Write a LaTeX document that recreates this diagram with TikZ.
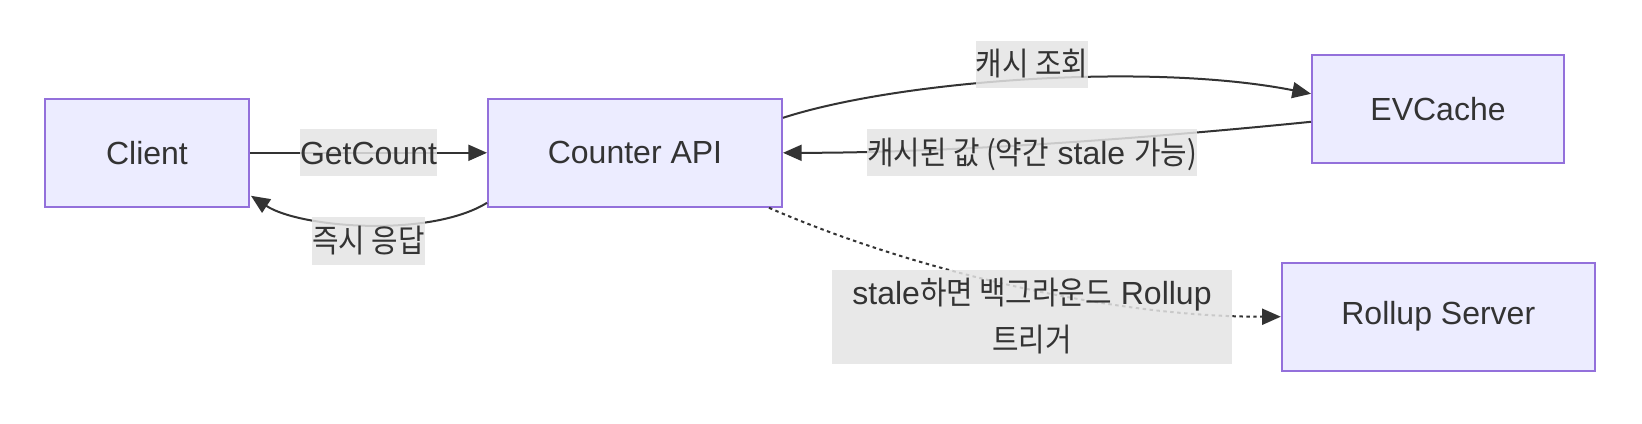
\documentclass[tikz,border=0pt]{standalone}
\usepackage{fontspec}
\setmainfont{Liberation Sans}
\newfontfamily\kr{Noto Sans CJK KR}[FakeStretch=0.9]
\usetikzlibrary{arrows.meta}

\definecolor{boxfill}{HTML}{ECECFF}
\definecolor{boxline}{HTML}{9370DB}
\definecolor{ink}{HTML}{333333}
\definecolor{lblbg}{HTML}{E4E4E4}

% line box of one label line, text set a little low as in the picture
\newcommand\lblstrut{\rule[-9.1pt]{0pt}{35.25pt}}

\tikzset{
  box/.style={draw=boxline, fill=boxfill, line width=1.5pt, minimum height=81pt, text=ink},
  lbl/.style={fill=lblbg, fill opacity=0.85, text opacity=1, text=ink, inner xsep=0pt, inner ysep=0pt},
  flow/.style={draw=ink, line width=1.5pt, -{Triangle[length=14pt, width=12pt]}},
  dots/.style={flow, dash pattern=on 2.6pt off 2.6pt},
}

\begin{document}
\begin{tikzpicture}[x=0.75pt, y=-0.75pt, font=\fontsize{24}{35.25}\selectfont]
        \path[fill=white, use as bounding box] (0,0) rectangle (1642,424);

        % Draw the four services
        \node[box, minimum width=153pt] (client) at (147,152.8) {Client};
        \node[box, minimum width=220.5pt] (api) at (635,152.8) {Counter API};
        \node[box, minimum width=189pt] (evc) at (1438,108.8) {EVCache};
        \node[box, minimum width=234.75pt] (roll) at (1438.3,316.7) {Rollup Server};

        % Request from the client, and the quick reply
        \draw[flow] (client) -- node[lbl] (get) {\lblstrut GetCount} (api);
        \draw[flow] ([shift={(0,-5)}]api.south west) .. controls (430,238) and (300,228) .. ([shift={(1,-12)}]client.south east);
        \node[lbl] (now) at (368.5,241) {\lblstrut\kr 즉시 응답};

        % Cache lookup and cached value
        \draw[flow] ([shift={(0,20)}]api.north east) .. controls (900,80) and (1150,62) .. ([shift={(0,-15)}]evc.west);
        \node[lbl] (ask) at (1032,64.5) {\lblstrut\kr 캐시 조회};
        \draw[flow] ([shift={(0,13)}]evc.west) .. controls (1150,138) and (950,153) .. (api.east);
        \node[lbl] (hit) at (1032,153) {\lblstrut{\kr 캐시된 값 (약간} stale {\kr 가능)}};

        % Background rollup when the value is stale
        \draw[dots] ([shift={(-14,0)}]api.south east) .. controls (900,265) and (1100,317) .. (roll.west);
        \node[lbl, align=center, minimum width=300pt] (trig) at (1032,316.5) {\lblstrut stale{\kr 하면 백그라운드} Rollup\\\lblstrut{\kr 트리거}};
    \end{tikzpicture}
\end{document}
